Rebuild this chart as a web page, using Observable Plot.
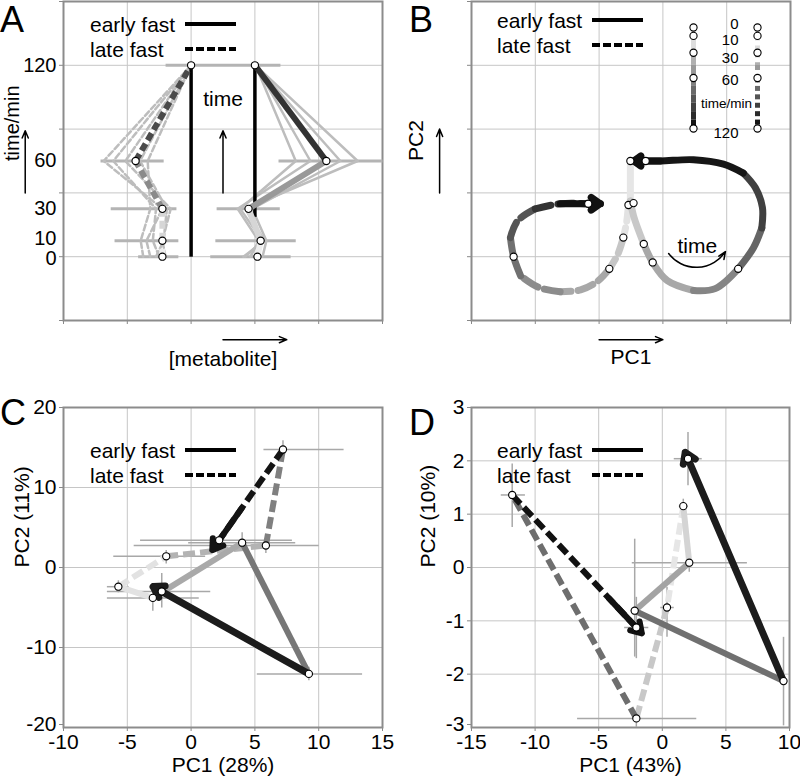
<!DOCTYPE html>
<html>
<head>
<meta charset="utf-8">
<script src="https://cdn.jsdelivr.net/npm/d3@7"></script>
<script src="https://cdn.jsdelivr.net/npm/@observablehq/plot@0.6"></script>
<style>
  html, body { margin: 0; padding: 0; background: #fff; }
  #fig { position: relative; width: 800px; height: 779px; overflow: hidden; background: #fff;
         font-family: "Liberation Sans", Arial, Helvetica, sans-serif; color: #000; }
  .pane { position: absolute; }
  .pane svg { overflow: visible; display: block; }
  .letter { position: absolute; font-size: 36px; line-height: 36px; }
</style>
</head>
<body>
<div id="fig"></div>
<script>
// ================= DATA =================
const times = [0, 10, 30, 60, 120];
const seriesNames = ["early fast", "late fast"];

// ---- Panel A: schematic metabolite time courses (x = [metabolite], y = time/min)
const aGridX = [0, 1, 2, 3, 4, 5];
const aGridY = [-40, 0, 40, 80, 120, 160];
const aEarlyMean = [3.04, 3.09, 2.90, 4.12, 3.00];
const aLateMean  = [1.55, 1.55, 1.55, 1.13, 2.00];
const aEarlyLo = [2.30, 2.38, 2.40, 3.37, 2.50];
const aEarlyHi = [3.56, 3.64, 3.39, 5.00, 3.40];
const aLateLo  = [1.17, 0.80, 0.74, 0.58, 1.60];
const aLateHi  = [1.80, 1.80, 1.77, 1.57, 2.50];
const aEarlyIndividual = [
  [2.85, 3.12, 2.77, 3.64, 3.01],
  [2.93, 3.06, 2.73, 3.87, 3.01],
  [3.12, 3.18, 2.96, 4.34, 3.01],
  [2.82, 3.15, 2.85, 4.61, 3.01]
];
const aLateIndividual = [
  [1.36, 1.30, 1.55, 0.63, 2.00],
  [1.50, 1.40, 1.45, 0.78, 2.00],
  [1.60, 1.55, 1.68, 0.97, 2.00],
  [1.25, 1.21, 1.36, 1.32, 2.00],
  [1.45, 1.57, 1.62, 1.20, 2.00]
];
const aRefX = [2, 3];
const aRefFrom = [0, 25];
const aRefTo = [120, 120];

// ---- Panel B: schematic PCA trajectories
const bGrid = [0, 1, 2, 3, 4, 5];
const bEarlyX = [2.49, 2.49, 2.54, 2.70, 2.84, 3.07, 3.48, 3.82, 4.18, 4.42, 4.55, 4.56, 4.45, 4.26, 3.95, 3.48, 2.96, 2.54];
const bEarlyY = [2.50, 1.875, 1.64, 1.20, 0.91, 0.625, 0.47, 0.50, 0.81, 1.14, 1.45, 1.77, 2.08, 2.31, 2.45, 2.52, 2.50, 2.50];
const bLateX = [2.46, 2.43, 2.38, 2.29, 2.16, 1.97, 1.71, 1.39, 1.05, 0.77, 0.66, 0.61, 0.72, 1.00, 1.39, 1.83, 2.02];
const bLateY = [1.81, 1.53, 1.30, 1.03, 0.81, 0.61, 0.48, 0.45, 0.52, 0.70, 1.00, 1.30, 1.56, 1.75, 1.83, 1.83, 1.83];
const bDotX = [2.49, 2.73, 2.46, 2.54, 2.38, 2.70, 2.84, 2.16, 0.66, 1.83, 4.18];
const bDotY = [2.50, 2.50, 1.81, 1.84, 1.30, 1.20, 0.91, 0.81, 1.00, 1.83, 0.81];
// time colour key
const barFrom = [0, 10, 30, 45, 60, 70, 80, 90, 100, 110];
const barTo   = [10, 30, 45, 60, 70, 80, 90, 100, 110, 120];
const keyLabelAt = [-4, 15, 36, 63, 125];
const keyTitleAt = 90;

// ---- Panel C: PCA (PC1 28%, PC2 11%)
const cTicksX = [-10, -5, 0, 5, 10, 15];
const cTicksY = [-20, -10, 0, 10, 20];
const cEarlyX = [-5.7, -3.0, 4.0, 9.23, -2.3];
const cEarlyY = [-2.4, -3.8, 3.1, -13.3, -3.0];
const cLateX  = [-5.7, -1.95, 5.86, 7.2, 2.2];
const cLateY  = [-2.4, 1.4, 2.75, 14.75, 3.4];
const cEarlyXLo = [-6.6, -6.6, -0.23, 5.15, -6.6];
const cEarlyXHi = [-4.9, 0.6, 8.16, 13.4, 1.5];
const cEarlyYLo = [-3.1, -5.4, 2.2, -14.1, -5.0];
const cEarlyYHi = [-1.6, -2.8, 4.4, -12.4, -0.7];
const cLateXLo = [-6.6, -6.1, -4.5, 5.67, -4.0];
const cLateXHi = [-4.9, 1.1, 10.0, 11.95, 7.9];
const cLateYLo = [-3.1, 0.5, 1.8, 13.6, 2.9];
const cLateYHi = [-1.6, 2.2, 3.2, 15.9, 3.9];

// ---- Panel D: PCA (PC1 43%, PC2 10%)
const dTicksX = [-15, -10, -5, 0, 5, 10];
const dTicksY = [-3, -2, -1, 0, 1, 2, 3];
const dEarlyX = [1.65, 2.12, -2.17, 9.53, 2.02];
const dEarlyY = [1.15, 0.09, -0.81, -2.13, 2.04];
const dLateX  = [1.65, 0.37, -2.04, -11.8, -2.04];
const dLateY  = [1.15, -0.75, -2.83, 1.36, -1.125];
const dEarlyXLo = [1.3, -2.4, -2.5, 9.3, 0.9];
const dEarlyXHi = [2.0, 6.65, -1.9, 9.8, 3.1];
const dEarlyYLo = [1.04, -0.08, -1.67, -2.96, 1.54];
const dEarlyYHi = [1.29, 0.26, 0.54, -1.3, 2.54];
const dLateXLo = [1.3, -0.16, -6.7, -12.7, -3.0];
const dLateXHi = [2.0, 0.9, 2.67, -10.8, -1.1];
const dLateYLo = [1.04, -1.3, -2.99, 0.76, -1.7];
const dLateYHi = [1.29, -0.36, -2.7, 1.95, -0.55];

// ================= STYLES =================
const FONT = '"Liberation Sans", Arial, Helvetica, sans-serif';
const gridStyle = {stroke: "#c6c6c6", strokeOpacity: 1, strokeWidth: 1};
const frameStyle = {stroke: "#8c8c8c", strokeWidth: 2};
const dotStyle = {r: 3.6, fill: "white", stroke: "black", strokeWidth: 1.1};
const baseStyle = {fontFamily: FONT, fontSize: "21px", background: "transparent", color: "black", overflow: "visible"};
const aEarlyShade = ["#eeeeee", "#d6d6d6", "#999999", "#333333"];
const aLateShade  = ["#eeeeee", "#d6d6d6", "#8a8a8a", "#4a4a4a"];
const bEarlyShade = ["#e6e6e6", "#c8c8c8", "#c8c8c8", "#a8a8a8", "#a8a8a8", "#a8a8a8", "#858585", "#858585",
                     "#666666", "#666666", "#404040", "#404040", "#404040", "#161616", "#161616", "#161616", "#161616"];
const bLateShade  = ["#e2e2e2", "#e2e2e2", "#c6c6c6", "#c6c6c6", "#a8a8a8", "#a8a8a8", "#a8a8a8", "#8c8c8c",
                     "#8c8c8c", "#707070", "#707070", "#555555", "#555555", "#333333", "#333333", "#111111"];
const barShade = ["#f7f7f7", "#dddddd", "#b0b0b0", "#999999", "#808080", "#6a6a6a", "#555555", "#404040", "#2b2b2b", "#151515"];
const cEarlyShade = ["#e2e2e2", "#a9a9a9", "#777777", "#1c1c1c"];
const cLateShade  = ["#e2e2e2", "#b3b3b3", "#808080", "#141414"];
const dEarlyShade = ["#d4d4d4", "#a3a3a3", "#707070", "#1c1c1c"];
const dLateShade  = ["#e6e6e6", "#c8c8c8", "#6e6e6e", "#111111"];

// ================= HELPERS =================
const fig = document.getElementById("fig");
function place(el, left, top) {
  const d = document.createElement("div");
  d.className = "pane"; d.style.left = left + "px"; d.style.top = top + "px";
  d.append(el); fig.append(d);
}
function letter(ch, left, top) {
  const d = document.createElement("div");
  d.className = "letter"; d.textContent = ch;
  d.style.left = left + "px"; d.style.top = top + "px"; fig.append(d);
}
// legend: text + sample line (solid / dashed), drawn as a small SVG
function legend(left, top) {
  const d = document.createElement("div");
  d.className = "pane"; d.style.left = left + "px"; d.style.top = top + "px";
  d.innerHTML = `<svg width="160" height="50" style="overflow:visible">
    <g font-family='${FONT}' font-size="21" fill="black">
      <text x="0" y="13" dy="0.35em">${seriesNames[0]}</text>
      <text x="0" y="38" dy="0.35em">${seriesNames[1]}</text>
    </g>
    <line x1="95" y1="12" x2="146" y2="12" stroke="black" stroke-width="4"/>
    <line x1="95" y1="37" x2="146" y2="37" stroke="black" stroke-width="4" stroke-dasharray="8,3"/>
  </svg>`;
  fig.append(d);
}
function segRows(xs, ys, shades) {
  return shades.map((c, i) => ({x1: xs[i], y1: ys[i], x2: xs[i + 1], y2: ys[i + 1], c}));
}
function runRows(xs, ys, shades) {
  const rows = []; let run = -1, prev = null;
  for (let i = 0; i < shades.length; i++) {
    if (shades[i] !== prev) { run++; prev = shades[i]; rows.push({x: xs[i], y: ys[i], run, c: shades[i]}); }
    rows.push({x: xs[i + 1], y: ys[i + 1], run, c: shades[i]});
  }
  return rows;
}
function runLines(rows, opts) {
  const runs = d3.groups(rows, d => d.run);
  return runs.map(([, r]) => Plot.line(r, {x: "x", y: "y", stroke: r[0].c, curve: "catmull-rom", ...opts}));
}
const annArrow = {stroke: "black", strokeWidth: 1.5, headLength: 8, headAngle: 45};

// ================= PANEL A =================
{
  const indiv = (runs) => runs.flatMap((v, k) => times.map((t, i) => ({k, t, x: v[i]})));
  const bars = (lo, hi) => times.map((t, i) => ({t, lo: lo[i], hi: hi[i]}));
  const segs = (vals, shades) => shades.map((c, i) => ({x1: vals[i], y1: times[i], x2: vals[i + 1], y2: times[i + 1], c}));
  const means = [...times.map((t, i) => ({t, x: aEarlyMean[i]})), ...times.map((t, i) => ({t, x: aLateMean[i]}))];
  const refs = aRefX.map((x, i) => ({x, y1: aRefFrom[i], y2: aRefTo[i]}));
  const arrows = [
    {x1: -0.6, y1: 40, x2: -0.6, y2: 79},
    {x1: 2.5, y1: 40, x2: 2.5, y2: 79},
    {x1: 2.5, y1: -52, x2: 3.5, y2: -52}
  ];
  const tickLab = {tickSize: 0, tickPadding: 7, label: null, tickFormat: d => `${d}`, fontSize: 20};
  const p = Plot.plot({
    width: 400, height: 390, marginLeft: 63, marginRight: 18, marginTop: 1, marginBottom: 70,
    x: {domain: [0, 5]}, y: {domain: [-40, 160]},
    color: {type: "identity"},
    style: baseStyle,
    marks: [
      Plot.gridX(aGridX, gridStyle),
      Plot.gridY(aGridY, gridStyle),
      Plot.axisX(aGridX, {tickSize: 4, tickFormat: () => "", label: null, stroke: "#888"}),
      Plot.axisY(aGridY, {tickSize: 4, tickFormat: () => "", label: null, stroke: "#888"}),
      Plot.axisY(times.filter(t => t >= 30), tickLab),
      Plot.axisY(times.filter(t => t === 10), {...tickLab, dy: -2}),
      Plot.axisY(times.filter(t => t === 0), {...tickLab, dy: 2}),
      Plot.frame(frameStyle),
      Plot.link(bars(aLateLo, aLateHi), {x1: "lo", x2: "hi", y1: "t", y2: "t", stroke: "#b4b4b4", strokeWidth: 3}),
      Plot.link(bars(aEarlyLo, aEarlyHi), {x1: "lo", x2: "hi", y1: "t", y2: "t", stroke: "#b4b4b4", strokeWidth: 3}),
      Plot.line(indiv(aLateIndividual), {x: "x", y: "t", z: "k", stroke: "#bdbdbd", strokeWidth: 2.5, strokeDasharray: "6,3"}),
      Plot.line(indiv(aEarlyIndividual), {x: "x", y: "t", z: "k", stroke: "#bdbdbd", strokeWidth: 2.5}),
      Plot.link(refs, {x1: "x", x2: "x", y1: "y1", y2: "y2", stroke: "black", strokeWidth: 3.5}),
      Plot.link(segs(aLateMean, aLateShade), {x1: "x1", y1: "y1", x2: "x2", y2: "y2", stroke: "c", strokeWidth: 6, strokeDasharray: "8,4"}),
      Plot.link(segs(aEarlyMean, aEarlyShade), {x1: "x1", y1: "y1", x2: "x2", y2: "y2", stroke: "c", strokeWidth: 6}),
      Plot.dot(means, {x: "x", y: "t", ...dotStyle}),
      Plot.arrow(arrows, {x1: "x1", y1: "y1", x2: "x2", y2: "y2", ...annArrow}),
      Plot.text(["time"], {x: () => 2.5, y: () => 99, text: d => d, fontSize: 21}),
      Plot.text(["time/min"], {frameAnchor: "left", dx: -51, rotate: -90, text: d => d, fontSize: 20}),
      Plot.text(["[metabolite]"], {frameAnchor: "bottom", dy: 45, text: d => d, fontSize: 21})
    ]
  });
  place(p, 0, 0);
}

// ================= PANEL B =================
{
  const dots = bDotX.map((x, i) => ({x, y: bDotY[i]}));
  const nE = bEarlyX.length, nL = bLateX.length;
  const earlyHead = [{x1: bEarlyX[nE - 2], y1: bEarlyY[nE - 2], x2: bEarlyX[nE - 1], y2: bEarlyY[nE - 1]}];
  const lateHead = [{x1: bLateX[nL - 3], y1: bLateY[nL - 3], x2: bLateX[nL - 1], y2: bLateY[nL - 1]}];
  const arrows = [
    {x1: -0.5, y1: 2, x2: -0.5, y2: 3},
    {x1: 2, y1: -0.3, x2: 3, y2: -0.3}
  ];
  const p = Plot.plot({
    width: 400, height: 390, marginLeft: 71, marginRight: 10, marginTop: 1, marginBottom: 70,
    x: {domain: [0, 5]}, y: {domain: [0, 5]},
    color: {type: "identity"},
    style: baseStyle,
    marks: [
      Plot.gridX(bGrid, gridStyle),
      Plot.gridY(bGrid, gridStyle),
      Plot.axisX(bGrid, {tickSize: 4, tickFormat: () => "", label: null, stroke: "#888"}),
      Plot.axisY(bGrid, {tickSize: 4, tickFormat: () => "", label: null, stroke: "#888"}),
      Plot.frame(frameStyle),
      ...runLines(runRows(bLateX, bLateY, bLateShade), {strokeWidth: 7, strokeDasharray: "16,7"}),
      ...runLines(runRows(bEarlyX, bEarlyY, bEarlyShade), {strokeWidth: 7}),
      Plot.arrow(earlyHead, {x1: "x1", y1: "y1", x2: "x2", y2: "y2", stroke: "#111", strokeWidth: 7, headLength: 2.4, headAngle: 70, strokeLinejoin: "miter"}),
      Plot.arrow(lateHead, {x1: "x1", y1: "y1", x2: "x2", y2: "y2", stroke: "#111", strokeWidth: 7, headLength: 2.4, headAngle: 70, strokeLinejoin: "miter"}),
      Plot.dot(dots, {x: "x", y: "y", ...dotStyle}),
      Plot.arrow([{x1: 3.09, y1: 1.05, x2: 3.98, y2: 1.08}], {x1: "x1", y1: "y1", x2: "x2", y2: "y2", bend: -55, ...annArrow}),
      Plot.text(["time"], {x: () => 3.54, y: () => 1.17, text: d => d, fontSize: 21}),
      Plot.arrow(arrows, {x1: "x1", y1: "y1", x2: "x2", y2: "y2", ...annArrow}),
      Plot.text(["PC2"], {frameAnchor: "left", dx: -55, rotate: -90, text: d => d, fontSize: 21}),
      Plot.text(["PC1"], {frameAnchor: "bottom", dy: 43, text: d => d, fontSize: 21})
    ]
  });
  place(p, 400, 0);

  // time colour key (inset legend)
  const bars = seriesNames.flatMap(s => barFrom.map((f, i) => ({s, f, to: barTo[i], c: barShade[i]})));
  const keyDots = seriesNames.flatMap(s => times.map(t => ({s, t})));
  const keyLabels = times.map((t, i) => ({t, at: keyLabelAt[i]}));
  const key = Plot.plot({
    width: 140, height: 160, marginLeft: 33, marginRight: 43, marginTop: 27, marginBottom: 32,
    x: {type: "point", domain: seriesNames, padding: 0, axis: null},
    y: {domain: [0, 120], reverse: true, axis: null},
    color: {type: "identity"},
    style: baseStyle,
    marks: [
      Plot.ruleX(bars.filter(d => d.s === seriesNames[0]), {x: "s", y1: "f", y2: "to", stroke: "c", strokeWidth: 5}),
      Plot.ruleX(bars.filter(d => d.s === seriesNames[1]), {x: "s", y1: "f", y2: "to", stroke: "c", strokeWidth: 5, strokeDasharray: "5,5"}),
      Plot.dot(keyDots, {x: "s", y: "t", ...dotStyle}),
      Plot.text(keyLabels, {x: () => seriesNames[0], y: "at", dx: 45, textAnchor: "end", text: d => `${d.t}`, fontSize: 15}),
      Plot.text(["time/min"], {x: () => seriesNames[0], y: () => keyTitleAt, dx: 33, text: d => d, fontSize: 13.5})
    ]
  });
  place(key, 660, 0);
}

// ================= PANELS C & D =================
function pcaPanel(cfg) {
  const mk = (X, Y, XL, XH, YL, YH) => times.map((t, i) => ({t, x: X[i], y: Y[i], xlo: XL[i], xhi: XH[i], ylo: YL[i], yhi: YH[i]}));
  const early = mk(cfg.ex, cfg.ey, cfg.exlo, cfg.exhi, cfg.eylo, cfg.eyhi);
  const late = mk(cfg.lx, cfg.ly, cfg.lxlo, cfg.lxhi, cfg.lylo, cfg.lyhi);
  const all = [...early, ...late.slice(1)];
  const eSegs = segRows(cfg.ex, cfg.ey, cfg.eshade);
  const lSegs = segRows(cfg.lx, cfg.ly, cfg.lshade);
  const last = lSegs[lSegs.length - 1];
  const lateHead = [{
    x1: last.x2 + cfg.headFrac * (last.x1 - last.x2), y1: last.y2 + cfg.headFrac * (last.y1 - last.y2),
    x2: last.x2, y2: last.y2
  }];
  const fmt = d => `${d}`;
  const yLab = {tickSize: 4, tickPadding: 3, label: null, tickFormat: fmt, stroke: "#888"};
  return Plot.plot({
    width: 400, height: 389, marginLeft: cfg.ml, marginRight: cfg.mr, marginTop: 17, marginBottom: 52,
    x: {domain: cfg.xd}, y: {domain: cfg.yd},
    color: {type: "identity"},
    style: baseStyle,
    marks: [
      Plot.gridX(cfg.xt, gridStyle),
      Plot.gridY(cfg.yt, gridStyle),
      Plot.axisX(cfg.xt, {tickSize: 4, tickPadding: 3, label: null, tickFormat: fmt, stroke: "#888"}),
      Plot.axisY(cfg.yt.slice(1), yLab),
      Plot.axisY(cfg.yt.slice(0, 1), {...yLab, dy: -3}),
      Plot.frame(frameStyle),
      Plot.link(all, {x1: "xlo", x2: "xhi", y1: "y", y2: "y", stroke: "#a8a8a8", strokeWidth: 1.5}),
      Plot.link(all, {x1: "x", x2: "x", y1: "ylo", y2: "yhi", stroke: "#a8a8a8", strokeWidth: 1.5}),
      Plot.link(lSegs, {x1: "x1", y1: "y1", x2: "x2", y2: "y2", stroke: "c", strokeWidth: 6, strokeDasharray: "12,5"}),
      Plot.arrow(lateHead, {x1: "x1", y1: "y1", x2: "x2", y2: "y2", stroke: last.c, strokeWidth: 6, headLength: 3, headAngle: 65, insetEnd: cfg.lInset, strokeLinejoin: "miter"}),
      Plot.link(eSegs.slice(0, 3), {x1: "x1", y1: "y1", x2: "x2", y2: "y2", stroke: "c", strokeWidth: 6}),
      Plot.arrow(eSegs.slice(3), {x1: "x1", y1: "y1", x2: "x2", y2: "y2", stroke: "c", strokeWidth: 7, headLength: 2.6, headAngle: 65, insetEnd: cfg.eInset, strokeLinejoin: "miter"}),
      Plot.dot(all, {x: "x", y: "y", ...dotStyle}),
      Plot.text([cfg.xlabel], {frameAnchor: "bottom", dy: 44, text: d => d, fontSize: 21}),
      Plot.text([cfg.ylabel], {frameAnchor: "left", dx: cfg.ylabDx, rotate: -90, text: d => d, fontSize: 21})
    ]
  });
}

place(pcaPanel({
  xd: [-10, 15], yd: [-20, 20], xt: cTicksX, yt: cTicksY, ml: 63, mr: 18,
  ex: cEarlyX, ey: cEarlyY, exlo: cEarlyXLo, exhi: cEarlyXHi, eylo: cEarlyYLo, eyhi: cEarlyYHi,
  lx: cLateX, ly: cLateY, lxlo: cLateXLo, lxhi: cLateXHi, lylo: cLateYLo, lyhi: cLateYHi,
  eshade: cEarlyShade, lshade: cLateShade, headFrac: 0.35, eInset: -10, lInset: -12,
  xlabel: "PC1 (28%)", ylabel: "PC2 (11%)", ylabDx: -41
}), 0, 390);

place(pcaPanel({
  xd: [-15, 10], yd: [-3, 3], xt: dTicksX, yt: dTicksY, ml: 71, mr: 11,
  ex: dEarlyX, ey: dEarlyY, exlo: dEarlyXLo, exhi: dEarlyXHi, eylo: dEarlyYLo, eyhi: dEarlyYHi,
  lx: dLateX, ly: dLateY, lxlo: dLateXLo, lxhi: dLateXHi, lylo: dLateYLo, lyhi: dLateYHi,
  eshade: dEarlyShade, lshade: dLateShade, headFrac: 0.22, eInset: -7, lInset: -8,
  xlabel: "PC1 (43%)", ylabel: "PC2 (10%)", ylabDx: -43
}), 400, 390);

// ================= LETTERS & LEGENDS =================
letter("A", 0, 2); letter("B", 409, 2); letter("C", 0, 395); letter("D", 409, 405);
legend(90, 12);
legend(497, 8);
legend(90, 438);
legend(497, 438);
</script>
</body>
</html>
